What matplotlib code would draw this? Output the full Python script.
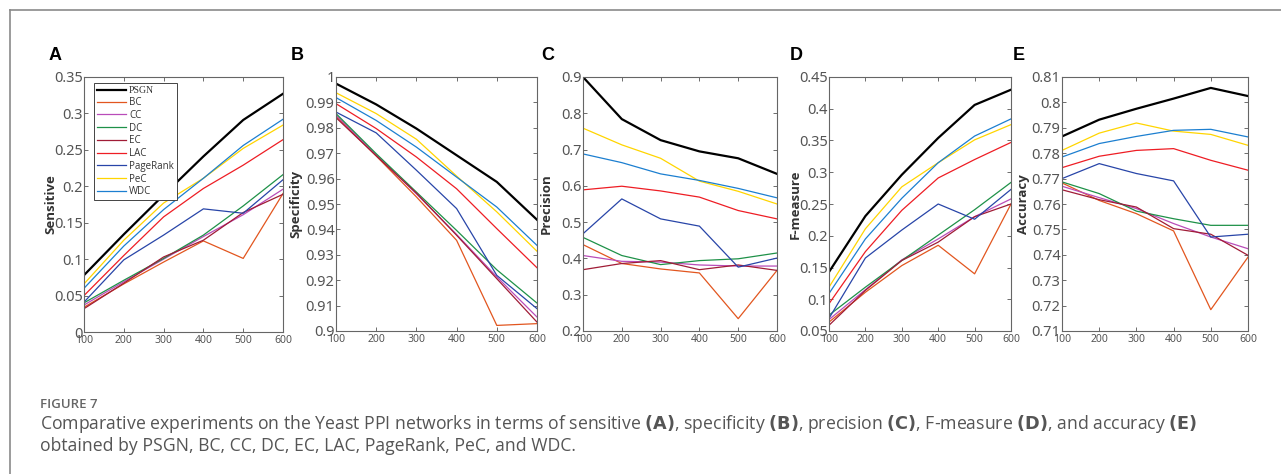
import matplotlib.pyplot as plt
from matplotlib.lines import Line2D
import numpy as np

# x positions (network size)
x = [100, 200, 300, 400, 500, 600]
methods = ["PSGN", "BC", "CC", "DC", "EC", "LAC", "PageRank", "PeC", "WDC"]
colors = {
    "PSGN": "#000000",
    "BC": "#E2561F",
    "CC": "#B94CB9",
    "DC": "#1E9148",
    "EC": "#A01C36",
    "LAC": "#EE1D24",
    "PageRank": "#2845A8",
    "PeC": "#FFD500",
    "WDC": "#1C7FD0",
}

# panel A: sensitive
sensitive = {
    "PSGN": [0.078, 0.134, 0.188, 0.241, 0.291, 0.327],
    "BC": [0.034, 0.066, 0.096, 0.125, 0.101, 0.190],
    "CC": [0.037, 0.069, 0.100, 0.131, 0.161, 0.196],
    "DC": [0.040, 0.071, 0.101, 0.133, 0.173, 0.216],
    "EC": [0.032, 0.067, 0.103, 0.126, 0.164, 0.189],
    "LAC": [0.050, 0.105, 0.158, 0.197, 0.229, 0.264],
    "PageRank": [0.041, 0.099, 0.133, 0.169, 0.163, 0.209],
    "PeC": [0.066, 0.126, 0.177, 0.211, 0.252, 0.284],
    "WDC": [0.060, 0.118, 0.168, 0.211, 0.256, 0.292],
}

# panel B: specificity
specificity = {
    "PSGN": [0.9974, 0.9892, 0.9797, 0.9692, 0.9587, 0.9438],
    "BC": [0.9845, 0.9689, 0.9528, 0.9357, 0.9022, 0.9029],
    "CC": [0.9850, 0.9694, 0.9540, 0.9380, 0.9213, 0.9055],
    "DC": [0.9856, 0.9698, 0.9547, 0.9396, 0.9241, 0.9110],
    "EC": [0.9840, 0.9690, 0.9543, 0.9377, 0.9206, 0.9035],
    "LAC": [0.9895, 0.9797, 0.9685, 0.9560, 0.9403, 0.9249],
    "PageRank": [0.9862, 0.9780, 0.9633, 0.9482, 0.9219, 0.9088],
    "PeC": [0.9938, 0.9856, 0.9755, 0.9610, 0.9469, 0.9314],
    "WDC": [0.9919, 0.9829, 0.9724, 0.9606, 0.9488, 0.9337],
}

# panel C: precision
precision = {
    "PSGN": [0.900, 0.784, 0.726, 0.695, 0.676, 0.633],
    "BC": [0.438, 0.386, 0.371, 0.360, 0.234, 0.367],
    "CC": [0.408, 0.392, 0.390, 0.382, 0.379, 0.379],
    "DC": [0.458, 0.408, 0.383, 0.394, 0.399, 0.415],
    "EC": [0.369, 0.386, 0.394, 0.369, 0.382, 0.367],
    "LAC": [0.589, 0.599, 0.586, 0.569, 0.532, 0.509],
    "PageRank": [0.468, 0.564, 0.509, 0.489, 0.376, 0.401],
    "PeC": [0.759, 0.713, 0.676, 0.613, 0.585, 0.550],
    "WDC": [0.688, 0.664, 0.633, 0.615, 0.593, 0.567],
}

# panel D: F-measure
fmeasure = {
    "PSGN": [0.143, 0.231, 0.296, 0.354, 0.406, 0.430],
    "BC": [0.064, 0.111, 0.153, 0.185, 0.140, 0.250],
    "CC": [0.068, 0.115, 0.162, 0.195, 0.230, 0.258],
    "DC": [0.075, 0.119, 0.161, 0.201, 0.241, 0.284],
    "EC": [0.059, 0.114, 0.161, 0.190, 0.230, 0.250],
    "LAC": [0.093, 0.175, 0.240, 0.291, 0.320, 0.347],
    "PageRank": [0.070, 0.165, 0.209, 0.250, 0.226, 0.273],
    "PeC": [0.119, 0.211, 0.277, 0.315, 0.351, 0.375],
    "WDC": [0.109, 0.195, 0.259, 0.315, 0.357, 0.384],
}

# panel E: accuracy
accuracy = {
    "PSGN": [0.7866, 0.7932, 0.7975, 0.8015, 0.8057, 0.8025],
    "BC": [0.7683, 0.7614, 0.7562, 0.7494, 0.7184, 0.7391],
    "CC": [0.7670, 0.7625, 0.7582, 0.7523, 0.7470, 0.7424],
    "DC": [0.7687, 0.7641, 0.7572, 0.7542, 0.7516, 0.7516],
    "EC": [0.7656, 0.7617, 0.7588, 0.7503, 0.7481, 0.7398],
    "LAC": [0.7743, 0.7788, 0.7811, 0.7818, 0.7772, 0.7733],
    "PageRank": [0.7700, 0.7759, 0.7720, 0.7691, 0.7470, 0.7481],
    "PeC": [0.7811, 0.7879, 0.7919, 0.7887, 0.7874, 0.7831],
    "WDC": [0.7785, 0.7838, 0.7866, 0.7890, 0.7894, 0.7864],
}

panels = [
    ("A", "Sensitive", sensitive, (0, 0.35), np.arange(0, 0.351, 0.05), ["0", "0.05", "0.1", "0.15", "0.2", "0.25", "0.3", "0.35"]),
    ("B", "Specificity", specificity, (0.9, 1.0), np.arange(0.9, 1.0001, 0.01), ["0.9", "0.91", "0.92", "0.93", "0.94", "0.95", "0.96", "0.97", "0.98", "0.99", "1"]),
    ("C", "Precision", precision, (0.2, 0.9), np.arange(0.2, 0.901, 0.1), ["0.2", "0.3", "0.4", "0.5", "0.6", "0.7", "0.8", "0.9"]),
    ("D", "F-measure", fmeasure, (0.05, 0.45), np.arange(0.05, 0.451, 0.05), ["0.05", "0.1", "0.15", "0.2", "0.25", "0.3", "0.35", "0.4", "0.45"]),
    ("E", "Accuracy", accuracy, (0.71, 0.81), np.arange(0.71, 0.8101, 0.01), ["0.71", "0.72", "0.73", "0.74", "0.75", "0.76", "0.77", "0.78", "0.79", "0.8", "0.81"]),
]

W, H = 1281, 474
# axes boxes in pixels: left, right, top, bottom
boxes = [(84, 283, 77, 332), (336, 537, 77, 331), (583, 777, 77, 331),
         (829, 1011, 77, 331), (1062, 1248, 77, 331)]
letter_x = [55, 297, 548, 796, 1019]
ylabel_x = [57, 302, 553, 802, 1030]  # right edge of rotated label

plt.rcParams["font.family"] = ["Open Sans", "DejaVu Sans"]
fig = plt.figure(figsize=(W / 100, H / 100), dpi=100)

for i, (letter, ylabel, data, ylim, yticks, ylabels) in enumerate(panels):
    l, r, t, b = boxes[i]
    ax = fig.add_axes([l / W, 1 - b / H, (r - l) / W, (b - t) / H])
    for m in methods:
        lw = 1.6 if m == "PSGN" else 0.9
        ax.plot(x, data[m], color=colors[m], lw=lw, label=m)
    ax.set_xlim(100, 600)
    ax.set_ylim(*ylim)
    ax.set_xticks(x)
    ax.set_yticks(yticks)
    ax.set_yticklabels(ylabels)
    ax.tick_params(direction="in", top=True, right=True, length=3, width=0.6,
                   colors="#555555", pad=1)
    ax.tick_params(axis="x", labelsize=7.5, pad=2)
    ax.tick_params(axis="y", labelsize=10.5)
    for lab in ax.get_yticklabels() + ax.get_xticklabels():
        lab.set_family(["Noto Sans", "DejaVu Sans"])
        lab.set_fontstretch("condensed")
    for s in ax.spines.values():
        s.set_color("#666666")
        s.set_linewidth(0.8)
    ax.set_ylabel(ylabel, fontsize=9.5, fontweight="bold", color="#333333")
    ax.yaxis.set_label_coords((ylabel_x[i] - l) / (r - l), 0.5)
    fig.text(letter_x[i] / W, 1 - 55 / H, letter, fontsize=13, fontweight="bold",
             ha="center", va="center", family=["Liberation Sans", "DejaVu Sans"])

    if letter == "A":
        leg = ax.legend(loc="upper left", bbox_to_anchor=(0.05, 0.975), borderaxespad=0,
                        fontsize=7, labelspacing=0.18, handlelength=3.0, handletextpad=0.3,
                        borderpad=0.3, fancybox=False, framealpha=1, edgecolor="#444444")
        leg.get_frame().set_linewidth(0.7)
        for txt in leg.get_texts():
            txt.set_color("#333333")
            if txt.get_text() == "PSGN":
                txt.set_family(["Liberation Serif", "DejaVu Serif"])

# light frame around the figure (top and left edge)
fig.add_artist(Line2D([10 / W, 1], [1 - 10 / H, 1 - 10 / H], color="#8a8a8a", lw=1.2))
fig.add_artist(Line2D([10 / W, 10 / W], [0, 1 - 10 / H], color="#8a8a8a", lw=1.2))

# caption
fig.text(40 / W, 1 - 404 / H, "FIGURE 7", fontsize=9.5, color="#666666",
         fontweight="semibold", va="center")
fig.text(40 / W, 1 - 424 / H,
         "Comparative experiments on the Yeast PPI networks in terms of sensitive $\\bf{(A)}$, "
         "specificity $\\bf{(B)}$, precision $\\bf{(C)}$, F-measure $\\bf{(D)}$, and accuracy $\\bf{(E)}$",
         fontsize=12.7, color="#555555", va="center")
fig.text(40 / W, 1 - 446 / H, "obtained by PSGN, BC, CC, DC, EC, LAC, PageRank, PeC, and WDC.",
         fontsize=12.7, color="#555555", va="center")

fig.savefig("out.png", dpi=100)
